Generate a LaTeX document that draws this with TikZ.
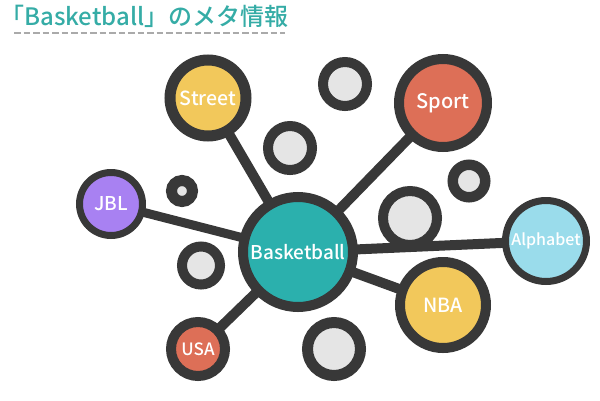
\documentclass[tikz,border=0pt]{standalone}
\usepackage{fontspec}
\setmainfont{Noto Sans CJK JP Medium}
\pgfdeclarelayer{back}
\pgfdeclarelayer{mid}
\pgfsetlayers{back,mid,main}
\definecolor{dark}{HTML}{383838}
\definecolor{teal}{HTML}{2BB0AD}
\definecolor{yel}{HTML}{F2C85B}
\definecolor{redo}{HTML}{DD6F57}
\definecolor{purp}{HTML}{A881F2}
\definecolor{lblue}{HTML}{9ADCEB}
\definecolor{lgray}{HTML}{E5E5E5}
\definecolor{titlecol}{HTML}{35ACA6}
\definecolor{dashcol}{HTML}{AAAAAA}
\begin{document}
\begin{tikzpicture}[x=1pt,y=-1pt,
  bub/.style={circle, draw=dark, fill=#1, inner sep=0pt, text=white},
  gbub/.style={circle, draw=dark, fill=lgray, inner sep=0pt},
  conn/.style={draw=dark, line width=10pt},
  fs/.style={font=\fontsize{#1}{#1}\selectfont}]
\useasboundingbox (0,0) rectangle (600,400);
% title
\node[anchor=base west, inner sep=0pt, text=titlecol, fs=24] (title) at (0,25) {「Basketball」のメタ情報};
\draw[dashcol, line width=2pt, dash pattern=on 6.5pt off 3pt] (14,32.5) -- (285,32.5);
% gray bubbles
\begin{pgfonlayer}{back}
\node[gbub, line width=10pt, minimum size=44pt] (g1) at (345,84) {};
\node[gbub, line width=10pt, minimum size=44pt] (g2) at (290,148) {};
\node[gbub, line width=11pt, minimum size=21pt] (g3) at (182,191) {};
\node[gbub, line width=10.5pt, minimum size=32.5pt] (g4) at (469,181) {};
\node[gbub, line width=10pt, minimum size=54pt] (g5) at (410,218) {};
\node[gbub, line width=10pt, minimum size=38pt] (g6) at (201,265.5) {};
\node[gbub, line width=11pt, minimum size=53pt] (g7) at (334,349) {};
\end{pgfonlayer}
% coloured nodes
\node[bub=teal, line width=10pt, minimum size=110pt, fs=19] (bb) at (298,252) {Basketball};
\node[bub=yel, line width=11pt, minimum size=76pt, fs=19.5] (street) at (208,98) {Street};
\node[bub=redo, line width=10pt, minimum size=88pt, fs=20] (sport) at (443,103) {Sport};
\node[bub=purp, line width=7pt, minimum size=63pt, fs=19] (jbl) at (111,204) {JBL};
\node[bub=lblue, line width=7pt, minimum size=81pt, fs=16] (alpha) at (546,241) {Alphabet};
\node[bub=yel, line width=10pt, minimum size=86pt, fs=19.5] (nba) at (443,305) {NBA};
\node[bub=redo, line width=10pt, minimum size=54pt, fs=17] (usa) at (198,349) {USA};
% connectors
\begin{pgfonlayer}{mid}
\draw[conn] (bb.center) -- (street.center);
\draw[conn] (bb.center) -- (sport.center);
\draw[conn, line width=9pt] (bb.center) -- (jbl.center);
\draw[conn] (bb.center) -- (alpha.center);
\draw[conn] (bb.center) -- (nba.center);
\draw[conn] (bb.center) -- (usa.center);
\end{pgfonlayer}
\end{tikzpicture}
\end{document}
